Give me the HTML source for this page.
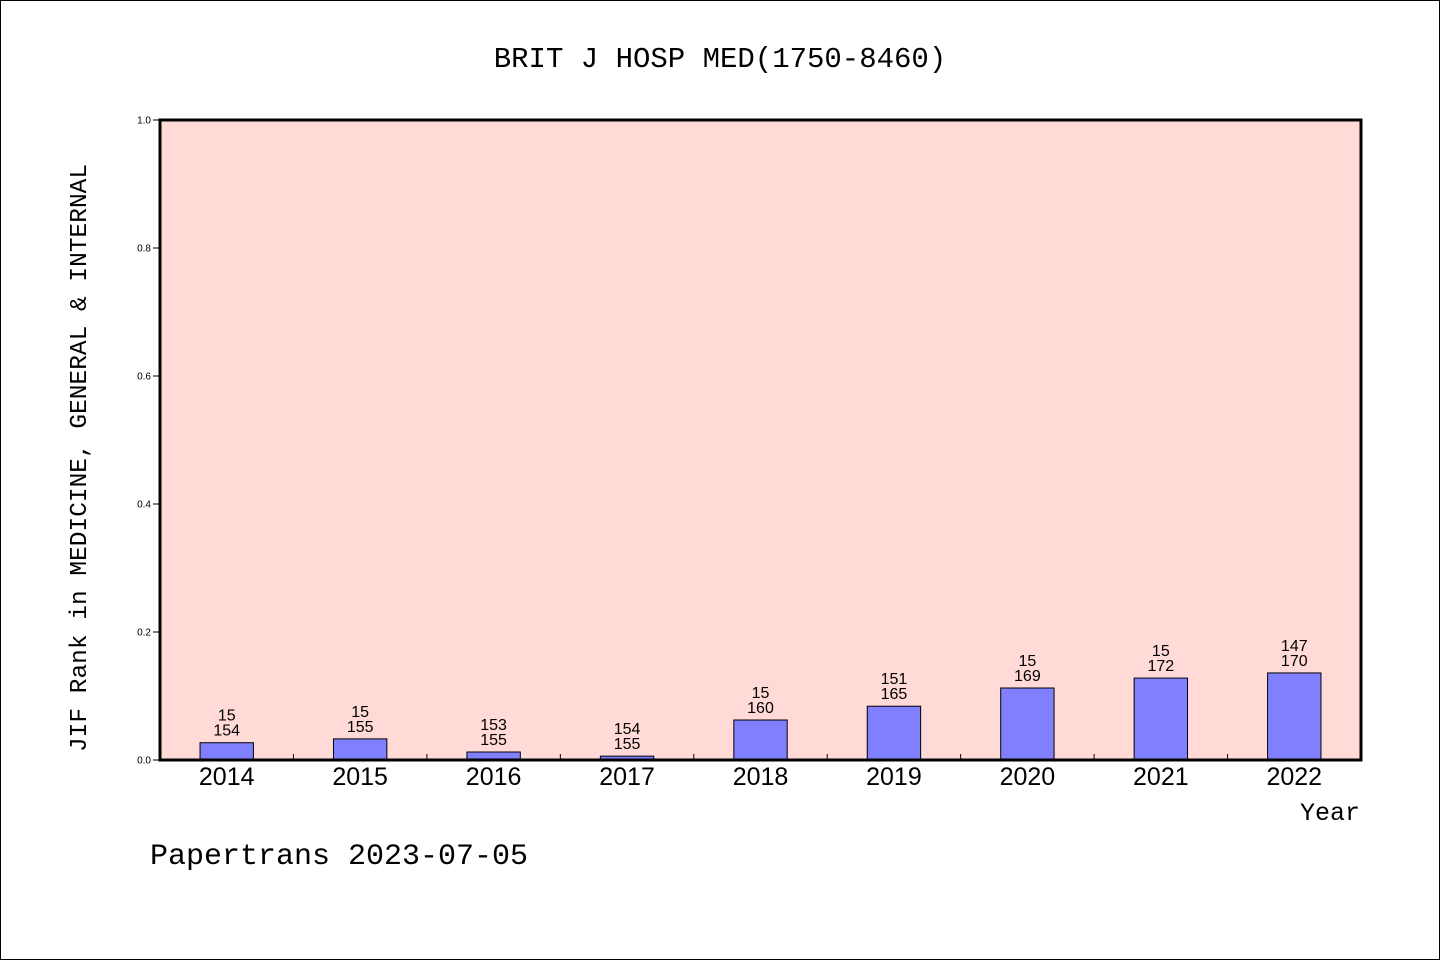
<!DOCTYPE html>
<html><head><meta charset="utf-8"><style>
body{margin:0;background:#fff}
svg{display:block}
</style></head><body>
<svg width="1440" height="960" xmlns="http://www.w3.org/2000/svg">
<rect x="0.5" y="0.5" width="1439" height="959" fill="#fff" stroke="#000"/>
<text x="720" y="67" text-anchor="middle" font-family="Liberation Mono, monospace" font-size="29">BRIT J HOSP MED(1750-8460)</text>
<rect x="160" y="120" width="1201" height="640" fill="#ffdad7"/>
<g id="ticks"></g>
<g id="bars"></g>
<rect x="160" y="120" width="1201" height="640" fill="none" stroke="#000" stroke-width="3"/>
<text transform="translate(86,458) rotate(-90)" text-anchor="middle" font-family="Liberation Mono, monospace" font-size="24.5">JIF Rank in MEDICINE, GENERAL &amp; INTERNAL</text>
<text x="1360" y="820" text-anchor="end" font-family="Liberation Mono, monospace" font-size="25">Year</text>
<text x="150" y="864" font-family="Liberation Mono, monospace" font-size="30">Papertrans 2023-07-05</text>
</svg>
<script>
const years=["2014","2015","2016","2017","2018","2019","2020","2021","2022"];
const values=[0.027,0.033,0.0125,0.006,0.0625,0.084,0.1125,0.128,0.136];
const ranks=["15","15","153","154","15","151","15","15","147"];
const totals=["154","155","155","155","160","165","169","172","170"];
const yTicks=[0,0.2,0.4,0.6,0.8,1.0];
const NS="http://www.w3.org/2000/svg";
const X0=160,X1=1361,Y0=760,Y1=120;
const band=(X1-X0)/years.length;
const xc=i=>X0+band*(i+0.5);
const y=v=>Y0-(Y0-Y1)*v;
function mk(tag,attrs,parent){const e=document.createElementNS(NS,tag);for(const k in attrs)e.setAttribute(k,attrs[k]);parent.appendChild(e);return e;}
const tg=document.getElementById('ticks'),bg=document.getElementById('bars');
yTicks.forEach(t=>{
 const l=mk('line',{x1:X0-7,x2:X0,y1:y(t),y2:y(t),stroke:'#000'},tg);
 
 
 const tx=mk('text',{x:X0-9,y:y(t)+3.5,'text-anchor':'end','font-family':'Liberation Sans, sans-serif','font-size':'10'},tg);
 tx.textContent=t.toFixed(1);
 
 
});
for(let i=1;i<years.length;i++){
 const l=mk('line',{x1:X0+band*i,x2:X0+band*i,y1:Y0,y2:Y0-6,stroke:'#000'},tg);
 
 
}
years.forEach((yr,i)=>{
 const w=band*0.4;
 const r=mk('rect',{x:xc(i)-w/2,y:y(values[i]),width:w,height:Y0-y(values[i]),fill:'#8080ff',stroke:'#000','stroke-width':'1'},bg);
 
 
 const t1=mk('text',{x:xc(i),y:y(values[i])-22,'text-anchor':'middle','font-family':'Liberation Sans, sans-serif','font-size':'16'},bg);
 t1.textContent=ranks[i];
 
 
 const t2=mk('text',{x:xc(i),y:y(values[i])-7,'text-anchor':'middle','font-family':'Liberation Sans, sans-serif','font-size':'16'},bg);
 t2.textContent=totals[i];
 
 
 const xl=mk('text',{x:xc(i),y:785,'text-anchor':'middle','font-family':'Liberation Sans, sans-serif','font-size':'25'},bg);
 xl.textContent=yr;
 
 
});
</script>
</body></html>
